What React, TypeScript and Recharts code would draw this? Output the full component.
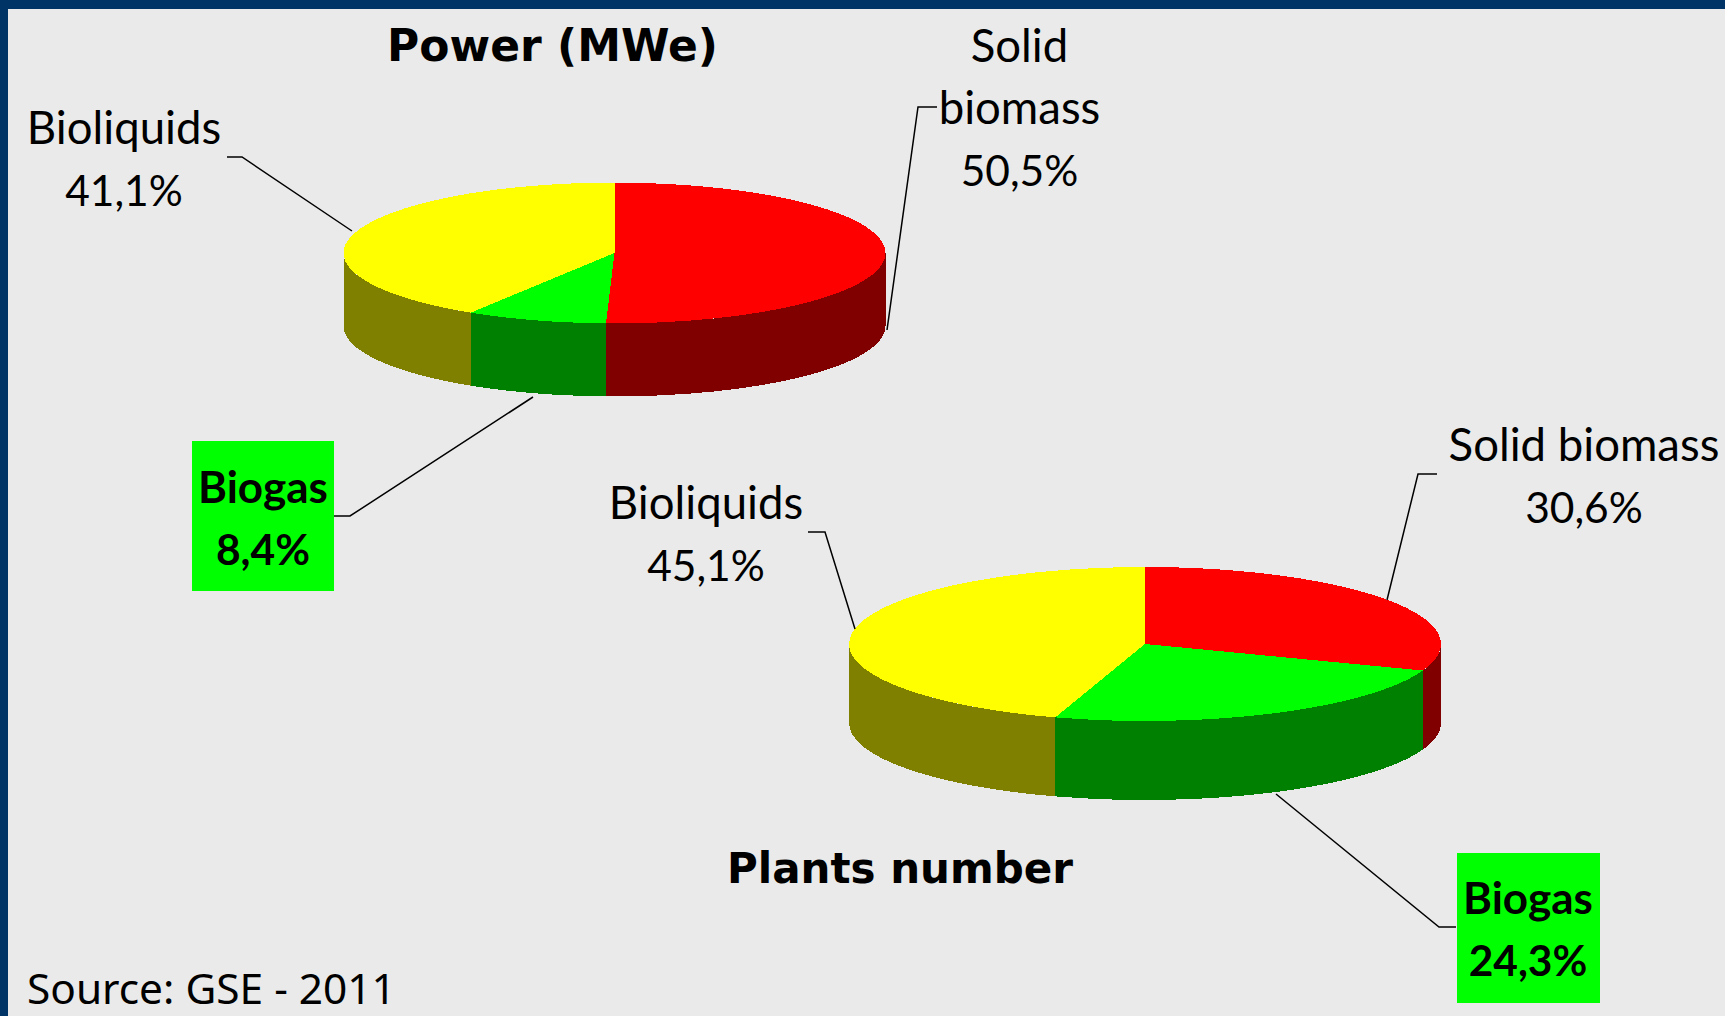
import React from "react";
import { PieChart, Pie, Cell } from "recharts";

const categories = ["Solid biomass", "Biogas", "Bioliquids"];
const powerValues = [50.5, 8.4, 41.1];
const plantsValues = [30.6, 24.3, 45.1];
const topColors = ["#FF0000", "#00FF00", "#FFFF00"];
const sideColors = ["#800000", "#008000", "#808000"];

const W = 1725;
const H = 1016;
const LABEL_FONT = "Lato, Carlito, sans-serif";
const WORD_SIZE = 45.5;
const BOLD_WORD_SIZE = 44;
const NUMBER_SIZE = 42.5;
const LINE_H = 62;

type Pt = [number, number];
type LabelLayout = {
  lines: string[];
  x: number;
  y: number;
  leader: Pt[];
  box?: [number, number, number, number];
};

const powerLayout: LabelLayout[] = [
  { lines: ["Solid", "biomass"], x: 1019.5, y: 62, leader: [[937, 107], [918, 107], [887, 330]] },
  { lines: ["Biogas"], x: 263, y: 503, leader: [[533, 397], [350, 516], [334, 516]], box: [192, 441, 142, 150] },
  { lines: ["Bioliquids"], x: 124, y: 144, leader: [[227, 157], [242, 157], [352, 231]] },
];
const plantsLayout: LabelLayout[] = [
  { lines: ["Solid biomass"], x: 1584, y: 461, leader: [[1437, 474], [1418, 474], [1387, 600]] },
  { lines: ["Biogas"], x: 1528, y: 914, leader: [[1276, 794], [1439, 927], [1456, 927]], box: [1457, 853, 143, 150] },
  { lines: ["Bioliquids"], x: 706, y: 519, leader: [[808, 532], [825, 532], [855, 629]] },
];

const makeData = (values: number[]) =>
  categories.map((name, i) => ({ name, value: values[i] }));

const fmt = (v: number) => `${v.toFixed(1).replace(".", ",")}%`;

const RAD = Math.PI / 180;

// Draws a sector as a tilted disc: elliptical top face plus the visible rim.
const tiltedSector = (ratio: number, depth: number) => (props: any) => {
  const { cx, cy, outerRadius, startAngle, endAngle, index } = props;
  const rx = outerRadius;
  const ry = outerRadius * ratio;
  const p = (a: number): Pt => [cx + rx * Math.cos(a * RAD), cy - ry * Math.sin(a * RAD)];
  const [sx, sy] = p(startAngle);
  const [ex, ey] = p(endAngle);
  const large = Math.abs(startAngle - endAngle) > 180 ? 1 : 0;
  const top = `M${cx},${cy} L${sx},${sy} A${rx},${ry} 0 ${large} 1 ${ex},${ey} Z`;
  const a1 = Math.min(startAngle, 0);
  const a2 = Math.max(endAngle, -180);
  let wall = "";
  if (a1 > a2) {
    const [x1, y1] = p(a1);
    const [x2, y2] = p(a2);
    wall = `M${x1},${y1} A${rx},${ry} 0 0 1 ${x2},${y2} L${x2},${y2 + depth} A${rx},${ry} 0 0 0 ${x1},${y1 + depth} Z`;
  }
  return (
    <g shapeRendering="crispEdges">
      {wall && <path d={wall} fill={sideColors[index]} stroke="none" />}
      <path d={top} fill={topColors[index]} stroke="none" />
    </g>
  );
};

const makeLabel = (layout: LabelLayout[]) => (props: any) => {
  const { index, name, value } = props;
  const item = layout[index];
  const text = item.lines.length ? item.lines : [name];
  const bold = !!item.box;
  const rows = [...text, fmt(value)];
  return (
    <g key={name}>
      {item.box && (
        <rect x={item.box[0]} y={item.box[1]} width={item.box[2]} height={item.box[3]} fill="#00FF00" />
      )}
      <polyline
        points={item.leader.map((q) => q.join(",")).join(" ")}
        fill="none"
        stroke="#000"
        strokeWidth={1.5}
      />
      <text
        x={item.x}
        y={item.y}
        textAnchor="middle"
        fontFamily={LABEL_FONT}
        fontWeight={bold ? 700 : 400}
        fill="#000"
      >
        {rows.map((line, i) => (
          <tspan
            key={i}
            x={item.x}
            y={item.y + i * LINE_H}
            fontSize={i === rows.length - 1 ? NUMBER_SIZE : bold ? BOLD_WORD_SIZE : WORD_SIZE}
          >
            {line}
          </tspan>
        ))}
      </text>
    </g>
  );
};

export default function App() {
  return (
    <div style={{ position: "absolute", left: 0, top: 0, width: W, height: H, background: "#003366", overflow: "hidden" }}>
      <div style={{ position: "absolute", left: 8, top: 9, width: W - 8, height: H - 9, background: "#EAEAEA" }} />
      <div style={{ position: "absolute", left: 0, top: 0 }}>
        <PieChart width={W} height={H} margin={{ top: 0, right: 0, bottom: 0, left: 0 }}>
          <Pie
            data={makeData(powerValues)}
            dataKey="value"
            nameKey="name"
            cx={614.5}
            cy={253}
            outerRadius={271}
            startAngle={90}
            endAngle={-270}
            stroke="none"
            isAnimationActive={false}
            shape={tiltedSector(70.4 / 271, 73)}
            label={makeLabel(powerLayout)}
            labelLine={false}
          >
            {categories.map((c, i) => (
              <Cell key={c} fill={topColors[i]} />
            ))}
          </Pie>
          <Pie
            data={makeData(plantsValues)}
            dataKey="value"
            nameKey="name"
            cx={1145}
            cy={644}
            outerRadius={296}
            startAngle={90}
            endAngle={-270}
            stroke="none"
            isAnimationActive={false}
            shape={tiltedSector(77 / 296, 79)}
            label={makeLabel(plantsLayout)}
            labelLine={false}
          >
            {categories.map((c, i) => (
              <Cell key={c} fill={topColors[i]} />
            ))}
          </Pie>
          <text x={552.5} y={61} textAnchor="middle" fontFamily="DejaVu Sans" fontWeight={700} fontSize={44} fill="#000">
            Power (MWe)
          </text>
          <text x={900} y={883} textAnchor="middle" fontFamily="DejaVu Sans" fontWeight={700} fontSize={42} fill="#000">
            Plants number
          </text>
          <text x={27} y={1004} fontFamily="Noto Sans" fontSize={42.4} fill="#000">
            Source: GSE - 2011
          </text>
        </PieChart>
      </div>
    </div>
  );
}
